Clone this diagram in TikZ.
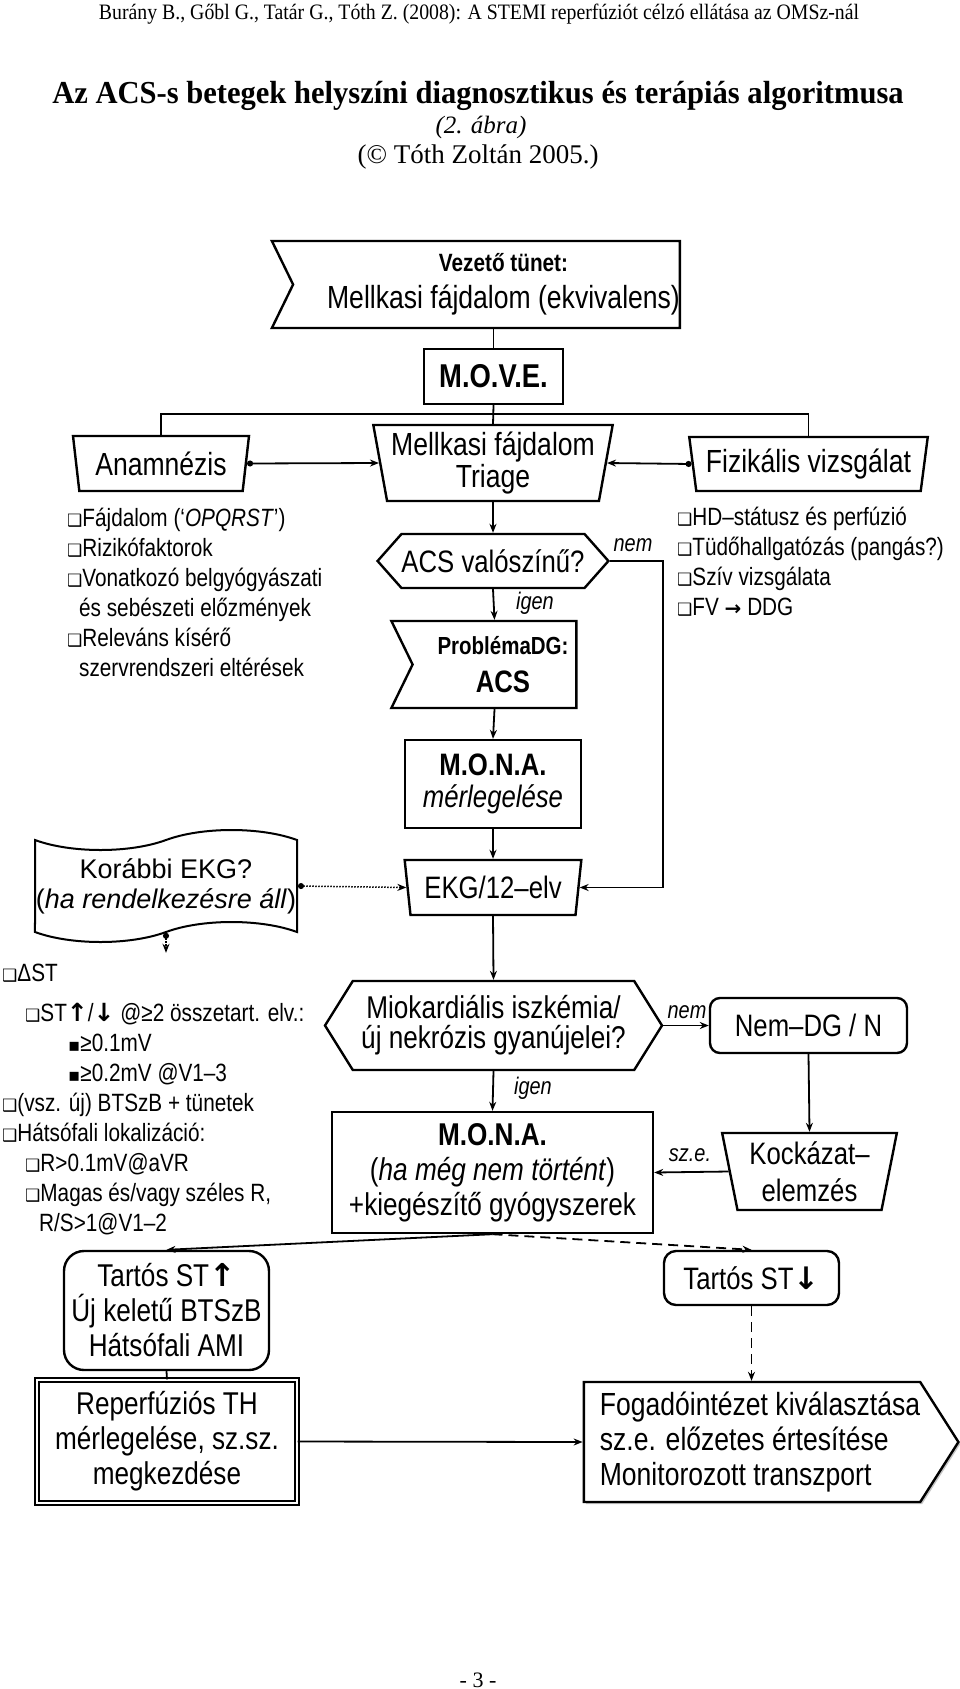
\documentclass[tikz,border=0pt]{standalone}
\usepackage{fontspec}
\setmainfont{Liberation Sans}[FakeStretch=0.83]
\newfontfamily\widesans{Liberation Sans}
\newfontfamily\timesfont{Liberation Serif}
\newfontfamily\timeshdr{Liberation Serif}[FakeStretch=0.9]
\newfontfamily\timesttl{Liberation Serif}[FakeStretch=0.955]
\newfontfamily\dejavu{DejaVu Sans}
\usetikzlibrary{arrows.meta, shapes.geometric, shapes.symbols, shadows, positioning}
\newcommand\fsz[2]{\fontsize{#1}{#2}\selectfont}
\newcommand\qb{{\dejavu\fsz{17}{17}❑}}
\newcommand\sqb{{\dejavu\fsz{18}{18}▪}}
\newcommand\upar{{\dejavu\bfseries ↑}}
\newcommand\dnar{{\dejavu\bfseries ↓}}

\begin{document}
\begin{tikzpicture}[x=1pt, y=-1pt,
    box/.style={draw, line width=2.4pt, inner sep=0pt, align=center, font=\fsz{31}{32}},
    trap/.style={box, trapezium, shape border rotate=180, trapezium left angle=78,
      trapezium right angle=78, trapezium stretches=true},
    hexa/.style={box, signal, signal to=west and east},
    flag/.style={box, signal, signal from=west, signal to=nowhere},
    rbox/.style={box, rounded corners=12pt},
    conn/.style={line width=1.8pt},
    arr/.style={conn, -{Stealth[length=9pt,width=7pt]}},
    darr/.style={conn, {Circle[length=6pt]}-{Stealth[length=9pt,width=7pt]}},
    dots/.style={line width=1.5pt, dash pattern=on 1.5pt off 1.5pt},
    dashes/.style={dash pattern=on 10pt off 6pt},
    lbl/.style={font=\fsz{24}{26}\itshape, inner sep=1pt},
    list/.style={align=left, inner sep=0pt, anchor=west, font=\fsz{25}{30}},
    shade/.style={fill=white, drop shadow={shadow xshift=2pt, shadow yshift=-2pt, fill=black!45}}]
  \useasboundingbox (0,0) rectangle (960,1689);
  % header
  \node[font=\timeshdr\fsz{22}{24}] (hdr) at (479,14)
    {Burány B., Gőbl G., Tatár G., Tóth Z. (2008): A STEMI reperfúziót célzó ellátása az OMSz-nál};
  \node[font=\timesttl\bfseries\fsz{32}{34}] (ttl) at (478,96)
    {Az ACS-s betegek helyszíni diagnosztikus és terápiás algoritmusa};
  \node[font=\timesfont\itshape\fsz{25}{28}] (abra) at (481,127) {(2. ábra)};
  \node[font=\timesfont\fsz{27}{30}] (copy) at (478,157) {(© Tóth Zoltán 2005.)};
  %
  \node[flag, minimum width=389pt, minimum height=87pt, signal pointer angle=128,
    font=\fsz{32}{34}] (vez) at (486.5,284.5)
    {\hspace*{34pt}{\bfseries\fsz{25}{26}Vezető tünet:}\\[3pt]\hspace*{34pt}Mellkasi fájdalom (ekvivalens)};
  \node[box, minimum width=139pt, minimum height=55pt, font=\bfseries\fsz{33}{34}]
    (move) at (493.5,376.5) {M.O.V.E.};
  \node[trap, minimum width=176pt, minimum height=55pt, font=\fsz{32}{32}] (anam) at (161,463.5) {Anamnézis};
  \node[trap, minimum width=240pt, minimum height=76pt, font=\fsz{32}{32}] (tri) at (493,463)
    {Mellkasi fájdalom\\Triage};
  \node[trap, minimum width=239pt, minimum height=54pt, font=\fsz{32}{32}] (fiz) at (808.5,464) {Fizikális vizsgálat};
  \node[list] (anaml) at (67,592) {\qb Fájdalom (‘\textit{OPQRST}’)\\\qb Rizikófaktorok\\
    \qb Vonatkozó belgyógyászati\\\hspace*{12pt}és sebészeti előzmények\\
    \qb Releváns kísérő\\\hspace*{12pt}szervrendszeri eltérések};
  \node[list] (fizl) at (677,562) {\qb HD–státusz és perfúzió\\\qb Tüdőhallgatózás (pangás?)\\
    \qb Szív vizsgálata\\\qb FV {\dejavu\bfseries\fsz{20}{20}→} DDG};
  \node[hexa, minimum width=230pt, minimum height=54pt, signal pointer angle=97]
    (acs) at (493,561) {ACS valószínű?};
  \node[flag, minimum width=185pt, minimum height=87pt, signal pointer angle=128]
    (prob) at (494.5,664.5)
    {\hspace*{17pt}{\bfseries\fsz{24.7}{26}ProblémaDG:}\\[6pt]\hspace*{17pt}{\bfseries\fsz{31}{32}ACS}};
  \node[box, minimum width=176pt, minimum height=88pt] (mona) at (493,784)
    {{\bfseries M.O.N.A.}\\\textit{mérlegelése}};
  \node[trap, minimum width=177pt, minimum height=55pt] (ekg) at (493,887.5) {EKG/12–elv};
  \node[tape, draw, line width=2pt, minimum width=262pt, minimum height=112pt,
    tape bend height=20pt, font=\widesans\fsz{27}{30}, align=center, inner sep=0pt]
    (kor) at (166,886) {Korábbi EKG?\\(\textit{ha rendelkezésre áll})};
  \node[list] (ekgl) at (2,1099) {\qb ΔST\\[10pt]
    \hspace*{23pt}\qb ST\upar/\dnar{} @≥2 összetart. elv.:\\
    \hspace*{66pt}\sqb≥0.1mV\\
    \hspace*{66pt}\sqb≥0.2mV @V1–3\\
    \qb(vsz. új) BTSzB + tünetek\\
    \qb Hátsófali lokalizáció:\\
    \hspace*{23pt}\qb R>0.1mV@aVR\\
    \hspace*{23pt}\qb Magas és/vagy széles R,\\
    \hspace*{37pt}R/S>1@V1–2};
  \node[hexa, minimum width=337pt, minimum height=89pt, signal pointer angle=116,
    font=\fsz{31.5}{30}] (miok) at (493.5,1025.5) {Miokardiális iszkémia/\\új nekrózis gyanújelei?};
  \node[rbox, rounded corners=10pt, minimum width=197pt, minimum height=55pt,
    font=\fsz{31}{30}] (nemdg) at (808.5,1025.5) {Nem–DG / N};
  \node[trap, minimum width=175pt, minimum height=77pt, font=\fsz{31}{37}]
    (kock) at (809.5,1171.5) {Kockázat–\\elemzés};
  \node[box, minimum width=321pt, minimum height=121pt, font=\fsz{31.5}{35}]
    (mona2) at (492.5,1172.5)
    {{\bfseries M.O.N.A.}\\(\textit{ha még nem történt})\\+kiegészítő gyógyszerek};
  \node[rbox, rounded corners=20pt, minimum width=205pt, minimum height=119pt,
    font=\fsz{31.5}{35}] (tup) at (166.5,1310.5) {Tartós ST\upar\\Új keletű BTSzB\\Hátsófali AMI};
  \node[rbox, minimum width=175pt, minimum height=54pt] (tdn) at (751.5,1278) {Tartós ST\dnar};
  \node[box, shade, double, double distance=2.5pt, line width=1.3pt, minimum width=260pt,
    minimum height=123pt, font=\fsz{31.5}{35}] (rep) at (167,1441.5)
    {Reperfúziós TH\\mérlegelése, sz.sz.\\megkezdése};
  \node[box, shade, signal, signal to=east, signal pointer angle=115,
    minimum width=372pt, minimum height=120pt, align=left, font=\fsz{32}{35}]
    (fog) at (752,1442) {\hspace*{16pt}Fogadóintézet kiválasztása\\\hspace*{16pt}sz.e. előzetes értesítése\\
    \hspace*{16pt}Monitorozott transzport};
  \node[font=\timesfont\fsz{22}{24}] (pg) at (478,1680) {- 3 -};
  % labels
  \node[lbl] (nem1) at (633,545) {nem};
  \node[lbl] (igen1) at (535,603) {igen};
  \node[lbl] (nem2) at (687,1012) {nem};
  \node[lbl] (igen2) at (533,1088) {igen};
  \node[lbl] (sze) at (690,1155) {sz.e.};
  % connectors
  \coordinate (bus) at (493.5,414);
  \draw[conn] (move.north |- vez.south) -- (move.north);
  \draw[conn] (move.south) -- (tri.north);
  \draw[conn] (anam.north) |- (bus) -| (fiz.north);
  \draw[darr] (anam.east) -- (tri.west);
  \draw[darr] (fiz.west) -- (tri.east);
  \draw[arr] (tri.south) -- (acs.north);
  \draw[arr] (acs.south) -- (prob.north);
  \draw[arr] (acs.east) -- ++(53,0) |- (ekg.east);
  \draw[arr] (prob.south) -- (mona.north);
  \draw[arr] (mona.south) -- (ekg.north);
  \draw[darr, dots] (kor.east) -- (ekg.west);
  \path (kor.south) ++(0,20) coordinate (korend);
  \draw[darr, dots] (kor.south) -- (korend);
  \draw[arr] (ekg.south) -- (miok.north);
  \draw[arr] (miok.east) -- (nemdg.west);
  \draw[arr] (miok.south) -- (mona2.north);
  \draw[arr] (nemdg.south) -- (kock.north);
  \draw[arr] (kock.west) -- (mona2.east);
  \draw[arr] (mona2.south) -- (tup.north);
  \draw[arr, dashes] (mona2.south) -- (tdn.north);
  \draw[conn] (tup.south) -- (rep.north);
  \draw[arr] (rep.east) -- (fog.west);
  \draw[arr, dashes] (tdn.south) -- (tdn.south |- fog.north);
\end{tikzpicture}
\end{document}
